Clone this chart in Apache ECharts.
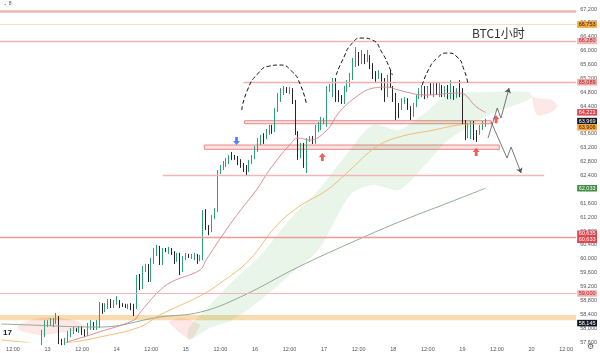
<!DOCTYPE html>
<html>
<head>
<meta charset="utf-8">
<script src="https://cdn.jsdelivr.net/npm/echarts@6/dist/echarts.min.js"></script>
<style>
html, body { margin: 0; padding: 0; background: #fff; }
#chart { width: 600px; height: 353px; }
</style>
</head>
<body>
<div id="chart"></div>
<script>
// hourly slots, first slot = day 12 08:00
const slotCount = 200;
const categories = [];
for (let i = 0; i < slotCount; i++) {
  const h = 8 + i;
  categories.push((12 + Math.floor(h / 24)) + ' ' + String(h % 24).padStart(2, '0') + ':00');
}

// BTC 1h candles [open, close, low, high], first one sits in slot 14
const candleStart = 14;
const candles = [
  [57570,57890,57510,57950],[57800,58180,57740,58230],[58090,58150,58030,58230],[58150,58180,58060,58290],
  [58090,58200,58030,58290],[58180,58320,58120,58440],[58290,57600,57540,58350],[57600,57570,57510,57690],
  [57570,57660,57510,57720],[57600,57860,57570,57920],[57800,57950,57740,58000],[57890,57970,57830,58030],
  [57950,57930,57890,58000],[57890,58000,57860,58060],[58000,57860,57800,58060],[57920,57800,57740,57970],
  [57800,58090,57770,58150],[58000,58150,57950,58230],[58120,58000,57950,58180],[58000,58180,57950,58230],
  [58030,58670,58000,58750],[58670,58460,58410,58720],[58520,58670,58460,58720],[58610,58780,58550,58840],
  [58780,58640,58580,58840],[58640,58750,58580,58810],[58720,58840,58670,58920],[58750,58640,58580,58810],
  [58670,58650,58610,58720],[58640,58620,58580,58700],[58610,58670,58550,58700],[58670,58580,58520,58720],
  [58640,58550,58350,58700],[58610,59470,58550,59530],[59470,59190,59100,59560],[59190,59730,59130,59790],
  [59680,59790,59620,59850],[59790,59390,59330,59850],[59390,59960,59330,60020],[59910,60250,59850,60310],
  [60140,60250,60080,60400],[60310,59880,59820,60370],[59880,60250,59820,60310],[60250,60240,60190,60310],
  [60190,60280,60140,60340],[60250,60170,60110,60310],[60170,59910,59850,60220],[59960,60110,59910,60170],
  [60110,59620,59530,60170],[59680,60020,59620,60080],[60020,60110,59960,60170],[60080,60060,60020,60140],
  [60050,60080,59990,60140],[60020,60110,59960,60170],[60080,59910,59850,60140],[59990,60020,59930,60110],
  [60020,61350,59960,61400],[61350,60890,60830,61430],[60910,60770,60680,60970],[60830,61200,60770,61260],
  [61200,61400,61140,61460],[61400,62500,61350,62560],[62500,62640,62440,62700],[62620,62760,62560,62820],
  [62700,62850,62640,62900],[62790,62900,62730,62990],[62900,62890,62850,63080],[62900,62890,62850,62990],
  [62900,62760,62700,62960],[62820,62670,62620,62870],[62700,62560,62500,62760],[62640,62500,62410,62700],
  [62560,62790,62500,62850],[62790,62930,62730,62990],[62930,63190,62870,63250],[63130,63420,63080,63480],
  [63340,63510,63280,63570],[63510,63370,63310,63620],[63510,63680,63450,63740],[63630,63800,63570,63860],
  [63800,63650,63600,63860],[63710,64290,63650,64350],[64290,64720,64230,64780],[64580,64860,64520,64920],
  [64780,64920,64720,64980],[64860,64850,64780,64950],[64810,64890,64750,64950],[64860,64520,64460,64920],
  [64520,63630,63570,64580],[63630,62930,62850,63680],[62990,63280,62900,63340],[63280,62930,62620,63340],
  [62930,63420,62470,63480],[63420,63480,63370,63540],[63480,63370,63310,63540],[63370,63800,63310,63860],
  [63710,63860,63650,63940],[63770,64000,63710,64090],[63940,63970,63880,64060],[63860,64920,63800,64980],
  [64860,64980,64810,65040],[64720,65150,64660,65210],[65150,64580,64520,65210],[64810,64580,64520,64860],
  [64660,64520,64460,64720],[64520,64920,64460,64980],[64860,65100,64810,65150],[65010,65300,64950,65360],
  [65210,65670,65150,65790],[65590,65730,65530,66100],[65730,65610,65560,65960],[65670,65790,65610,66020],
  [65820,65670,65610,65900],[65730,65870,65670,66020],[65820,65530,65470,65870],[65590,65240,65180,65640],
  [65350,65210,65100,65410],[65240,65380,65180,65440],[65300,64920,64860,65350],[65150,64660,64520,65210],
  [64720,65240,64660,65300],[65150,65010,64920,65440],[64920,64580,64520,64980],[64720,64230,64000,64780],
  [64430,64230,64060,64490],[64350,64580,64290,64630],[64520,64600,64460,64660],[64580,64350,64290,64630],
  [64350,64140,64000,64400],[64140,64430,64090,64490],[64430,64660,64370,64720],[64660,64860,64600,64920],
  [64720,64920,64660,65010],[64920,64660,64600,64980],[64690,64860,64630,64980],[65010,64780,64720,65070],
  [64720,65010,64660,65070],[65010,64780,64720,65070],[64720,65010,64660,65070],[64950,64720,64660,65010],
  [64720,64920,64660,64980],[64950,64660,64600,65010],[64660,64920,64600,65150],[64920,64630,64580,64980],
  [64690,64860,64630,64920],[64860,64720,64660,65150],[64860,63940,63880,64920],[63940,63510,63420,64000],
  [63570,63860,63480,63910],[63510,63910,63450,63970],[63910,63570,63420,63970],[63620,63600,63370,63710],
  [63620,63800,63570,63860],[63770,63910,63710,63970],[63860,63969,63800,64030]
];

// moving averages [slot, price]
const maFast = [[19,57480],[23,57600],[34,57890],[46,58230],[48,58435],[54,59010],[59,59330],[69,59680],[71,59960],
  [78,60830],[83,61400],[89,62040],[93,62560],[100,63280],[103,63480],[107,63420],[113,63710],[117,64200],
  [123,64660],[129,64920],[134,64950],[138,64860],[147,64720],[159,64780],[165,64370],[168,64221]];
const maMid = [[0,57660],[10,57570],[15,57490],[23,57570],[34,57740],[48,58030],[55,58380],[69,58930],[76,59300],
  [86,59960],[95,60910],[103,61490],[113,61980],[121,62560],[130,63220],[138,63510],[150,63710],[159,63860],[168,63906]];
const maSlow = [[0,58120],[10,58090],[34,58030],[55,58320],[69,58460],[83,58900],[103,59760],[121,60450],
  [138,61060],[155,61610],[168,62033]];

// ichimoku cloud pieces [slot, lower, upper]
const cloudGreen = [[65,57660,58000],[73,58030,58720],[80,58230,59330],[90,58810,60110],[100,59530,61120],
  [110,60250,61980],[121,61840,63130],[129,62130,63860],[138,61980,63710],[147,62700,64200],[155,63420,64720],
  [169,64140,64810],[183,64580,64810],[184,64660,64690]];
const cloudRed = [
  [[6,57945,58090],[13,57800,58290],[20,57860,58290],[27,57950,58180],[29,58060,58070]],
  [[58,58170,58180],[62,57860,58290],[66,57690,58230],[69,58080,58090]],
  [[184,64660,64690],[186,64140,64630],[191,64230,64580],[193,64400,64430]]
];

// horizontal levels
const fullLines = [[67142,'#f2b4b4',2.5],[66753,'#eee3bd',1.2],[66280,'#f2b6b6',1.3],[60633,'#ef9a9a',1.3],[59000,'#f2b4b4',1.2]];
const partLines = [[84,199.5,65089,'#f0b0b0',1.3],[56,188.4,62400,'#f2b6b6',1.3]];
const band = [58230, 58380];
const boxes = [[84.4,170,63893,63980],[70.4,172.8,63155,63279]];

// axis price tags [price, background, text colour, dy]
const priceTags = [[66753,'#f5a33a','#3b2500',0],[66280,'#f4b2b2','#a32a2a',0],[65089,'#f2a6a6','#a32a2a',0],
  [64221,'#e0454f','#fff',0],[63969,'#131722','#fff',0],[63906,'#f5a742','#3b2500',4],[62033,'#3e8e41','#fff',0],
  [60635,'#e0454f','#fff',-3],[60633,'#e0454f','#fff',3],[59000,'#f4b2b2','#a32a2a',0],[58145,'#131722','#fff',0]];

// hand drawn marks
const arcs = [
  [[83.4,64288],[85.4,64864],[88.9,65326],[93.1,65556],[96.5,65585],[100.7,65412],[103.8,65008],[105.9,64432]],
  [[116.2,65297],[118.4,65729],[121.8,66219],[125.3,66363],[128.7,66306],[132.2,65931],[134.6,65528],[135.7,65297]],
  [[146.1,65008],[148.2,65441],[151.3,65787],[154.7,65931],[158.2,65816],[160.6,65441],[162.0,65008]]
];
const downArrows = [[81.6,63394]];
const upArrows = [[111.4,62933],[164.8,63077],[171.7,64020]];
const zigzags = [
  [[168.9,63480],[172.1,64345],[173.4,64057],[176.2,64922]],
  [[170,63942],[175.5,62904],[176.9,63221],[180.4,62471]]
];

const fmt = v => Math.round(v).toLocaleString('en-US');
const candleData = categories.map((_, i) => candles[i - candleStart] || '-');
const upPath = 'path://M5,0 L10,5 L7,5 L7,10 L3,10 L3,5 L0,5 Z';
const downPath = 'path://M3,0 L7,0 L7,5 L10,5 L5,10 L0,5 L3,5 Z';

// cloud drawn as one polygon between its lower and upper edges
function cloudSeries(pts, color) {
  return {
    type: 'custom', xAxisIndex: 1, data: pts, encode: { x: 0, y: [1, 2] }, silent: true, z: 1, clip: true,
    renderItem: (params, api) => {
      if (params.dataIndex !== 0) return null;
      const top = pts.map(p => api.coord([p[0], p[2]]));
      const bottom = pts.map(p => api.coord([p[0], p[1]])).reverse();
      return { type: 'polygon', shape: { points: top.concat(bottom), smooth: 0.25 }, style: { fill: color } };
    }
  };
}

const markLineData = [];
fullLines.forEach(l => markLineData.push({ yAxis: l[0], lineStyle: { color: l[1], width: l[2], type: 'solid' }, label: { show: false } }));
partLines.forEach(l => markLineData.push([
  { coord: [l[0], l[2]], lineStyle: { color: l[3], width: l[4], type: 'solid' }, label: { show: false } },
  { coord: [l[1], l[2]] }
]));
priceTags.forEach(t => markLineData.push({
  yAxis: t[0], lineStyle: { color: 'rgba(0,0,0,0)', width: 0 },
  label: { show: true, position: 'end', distance: 1, formatter: fmt(t[0]), backgroundColor: t[1], color: t[2],
    fontSize: 5.5, lineHeight: 6, padding: [0.5, 1.5, 0, 1.5], offset: [0, t[3]], fontFamily: 'Liberation Sans' }
}));

const series = [
  { type: 'line', xAxisIndex: 1, data: [[-5, 60000]], showSymbol: false, silent: true, z: 1,
    markLine: { silent: true, symbol: 'none', animation: false, data: markLineData },
    markArea: { silent: true, animation: false, data: [
      [{ yAxis: band[0], itemStyle: { color: '#f8dcaf' } }, { yAxis: band[1] }],
      ...boxes.map(b => [{ coord: [b[0], b[3]], itemStyle: { color: 'rgba(244,170,170,0.35)', borderColor: '#e68a8a', borderWidth: 1 } },
        { coord: [b[1], b[2]] }])
    ] } },
  cloudSeries(cloudGreen, 'rgba(76,175,80,0.13)'),
  ...cloudRed.map(c => cloudSeries(c, 'rgba(244,67,54,0.12)')),
  { type: 'candlestick', xAxisIndex: 0, data: candleData, barWidth: 1.3, z: 3,
    itemStyle: { color: '#2f9e7d', borderColor: '#2f9e7d', color0: '#262626', borderColor0: '#262626', borderWidth: 1 } },
  { type: 'line', xAxisIndex: 1, data: maSlow, smooth: 0.4, showSymbol: false, lineStyle: { color: '#86a38c', width: 0.9 }, z: 4 },
  { type: 'line', xAxisIndex: 1, data: maMid, smooth: 0.4, showSymbol: false, lineStyle: { color: '#f0b766', width: 0.9 }, z: 4 },
  { type: 'line', xAxisIndex: 1, data: maFast, smooth: 0.4, showSymbol: false, lineStyle: { color: '#d9838c', width: 0.9 }, z: 4 },
  ...arcs.map(a => ({ type: 'line', xAxisIndex: 1, data: a, smooth: 0.6, showSymbol: false,
    lineStyle: { color: '#111', width: 1, type: [4, 2.5] }, z: 5 })),
  { type: 'scatter', xAxisIndex: 1, data: upArrows, symbol: upPath, symbolSize: [7, 8], itemStyle: { color: '#e53935' }, z: 6 },
  { type: 'scatter', xAxisIndex: 1, data: downArrows, symbol: downPath, symbolSize: [7, 8], itemStyle: { color: '#2962ff' }, z: 6 },
  { type: 'lines', coordinateSystem: 'cartesian2d', xAxisIndex: 1, polyline: true, z: 5,
    lineStyle: { color: '#555', width: 0.8, opacity: 1 }, data: zigzags.map(z => ({ coords: z.slice(0, -1) })) },
  { type: 'lines', coordinateSystem: 'cartesian2d', xAxisIndex: 1, z: 5, symbol: ['none', 'arrow'], symbolSize: 5,
    lineStyle: { color: '#555', width: 0.8, opacity: 1 }, data: zigzags.map(z => ({ coords: z.slice(-2) })) }
];

const chart = echarts.init(document.getElementById('chart'));
chart.setOption({
  animation: false,
  backgroundColor: '#fff',
  grid: { left: 0, right: 21, top: 0, bottom: 11 },
  xAxis: [
    { type: 'category', data: categories, boundaryGap: true,
      axisLine: { show: false }, axisTick: { show: false }, splitLine: { show: false },
      axisLabel: { fontSize: 5.5, color: '#555', margin: 4, fontFamily: 'Liberation Sans',
        interval: (i, v) => /(00|12):00$/.test(v),
        formatter: v => v.endsWith('12:00') ? '12:00' : v.split(' ')[0] } },
    { type: 'value', min: -0.5, max: slotCount - 0.5, show: false }
  ],
  yAxis: {
    type: 'value', position: 'right', min: 57600, max: 67460, interval: 400, scale: true,
    axisLine: { show: false }, axisTick: { show: false }, splitLine: { show: false },
    axisLabel: { fontSize: 5.5, color: '#555', margin: 4, showMaxLabel: false, fontFamily: 'Liberation Sans', formatter: fmt }
  },
  graphic: [
    { type: 'text', left: 472, top: 27, style: { text: 'BTC1小时', fontSize: 12, fill: '#333', fontFamily: 'Noto Sans CJK SC' } },
    { type: 'text', left: 3, top: 329, style: { text: '17', fontSize: 8, fontWeight: 'bold', fill: '#131722', fontFamily: 'Liberation Sans' } },
    { type: 'text', left: 2, top: 1, style: { text: '⌄ 8', fontSize: 5, fill: '#555', borderColor: '#ddd', borderWidth: 0.5, borderRadius: 2, padding: [0, 1] } },
    { type: 'text', left: 587, top: 343, style: { text: '⚙', fontSize: 8, fill: '#555' } }
  ],
  series: series
});
</script>
</body>
</html>
